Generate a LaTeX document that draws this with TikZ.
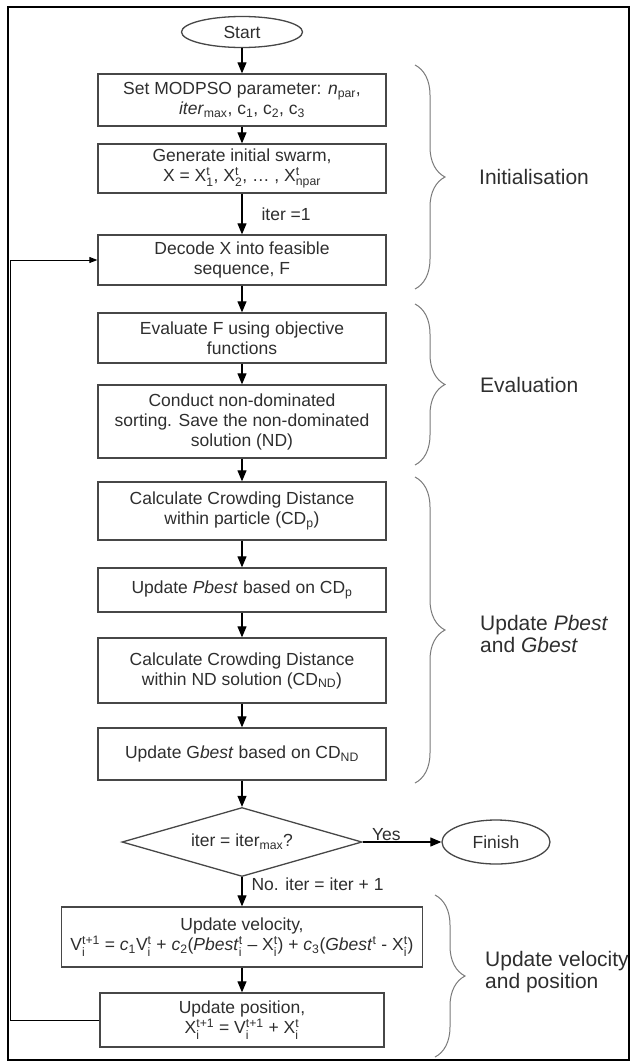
\documentclass[tikz,border=0pt]{standalone}
\usepackage{fontspec}
\usepackage{amsmath}
\setmainfont{Liberation Sans}
\definecolor{ink}{HTML}{2E2E2E}
\definecolor{edge}{HTML}{474747}
\definecolor{bracegray}{HTML}{7A7A7A}
\usetikzlibrary{arrows.meta, positioning, shapes.geometric, decorations.pathreplacing}
\newcommand{\boxfont}{\fontsize{17.5}{20}\selectfont}
\newcommand{\phasefont}{\fontsize{21}{22.5}\selectfont}
\newcommand{\lowtx}[1]{\ensuremath{_{\text{#1}}}}
\newcommand{\uptx}[1]{\ensuremath{^{\text{#1}}}}
\newcommand{\lowuptx}[2]{\ensuremath{_{\text{#1}}^{\text{#2}}}}

\begin{document}
\begin{tikzpicture}[
  x=1pt, y=-1pt,
  procbox/.style={draw=edge, line width=1.3pt, text=ink, align=center, font=\boxfont, minimum width=288pt, inner sep=2pt},
  termnode/.style={ellipse, draw=edge, line width=1.3pt, text=ink, font=\boxfont, inner sep=0pt},
  testnode/.style={diamond, aspect=3.5, draw=edge, line width=1.3pt, text=ink, font=\boxfont, minimum width=240pt, minimum height=69pt, inner sep=0pt},
  flow/.style={-{Triangle[length=11pt, width=9pt]}, line width=1.1pt},
  backflow/.style={-{Triangle[length=8pt, width=6pt]}, line width=1pt},
  edgetext/.style={font=\boxfont, text=ink, inner sep=1pt},
  phase/.style={decorate, decoration={brace, amplitude=30pt}, draw=bracegray, line width=1pt},
  phaselabel/.style={anchor=west, align=left, text=ink, font=\phasefont, inner sep=0pt},
]
\useasboundingbox (0,0) rectangle (632,1063);
\draw[line width=2pt] (8,7) rectangle (629,1060);

% Initialisation
\node[termnode, minimum width=121pt, minimum height=31pt] (start) at (242,32) {Start};
\node[procbox, minimum height=52pt] (setpar) at (242,100) {Set MODPSO parameter: \textit{n}\lowtx{par},\\ \textit{iter}\lowtx{max}, c\lowtx{1}, c\lowtx{2}, c\lowtx{3}};
\node[procbox, minimum height=49pt] (swarm) at (242,168.5) {Generate initial swarm,\\ X = X\lowuptx{1}{t}, X\lowuptx{2}{t}, \ldots\ , X\lowuptx{npar}{t}};
\node[procbox, minimum height=50pt] (decode) at (242,260) {Decode X into feasible\\ sequence, F};

% Evaluation
\node[procbox, minimum height=50pt] (evalf) at (242,338) {Evaluate F using objective\\ functions};
\node[procbox, minimum height=73pt] (sortnd) at (242,421.5) {Conduct non-dominated\\ sorting. Save the non-dominated\\ solution (ND)};

% Update Pbest and Gbest
\node[procbox, minimum height=58pt] (cdpart) at (242,511) {Calculate Crowding Distance\\ within particle (CD\lowtx{p})};
\node[procbox, minimum height=44pt] (pbest) at (242,590) {Update \textit{Pbest} based on CD\lowtx{p}};
\node[procbox, minimum height=65pt] (cdnd) at (242,670.5) {Calculate Crowding Distance\\ within ND solution (CD\lowtx{ND})};
\node[procbox, minimum height=52pt] (gbest) at (242,754) {Update G\textit{best} based on CD\lowtx{ND}};

% stopping test
\node[testnode] (stop) at (242,842) {iter = iter\lowtx{max}?};
\node[termnode, minimum width=108pt, minimum height=44pt] (finish) at (496,842) {Finish};

% Update velocity and position
\node[procbox, minimum width=361pt, minimum height=60pt] (veloc) at (242,937) {Update velocity,\\ V\lowuptx{i}{t+1} = \textit{c}\lowtx{1}V\lowuptx{i}{t} + \textit{c}\lowtx{2}(\textit{Pbest}\lowuptx{i}{t} -- X\lowuptx{i}{t}) + \textit{c}\lowtx{3}(\textit{Gbest}\uptx{t} - X\lowuptx{i}{t})};
\node[procbox, minimum width=284pt, minimum height=54pt] (posit) at (242,1020) {Update position,\\ X\lowuptx{i}{t+1} = V\lowuptx{i}{t+1} + X\lowuptx{i}{t}};

\draw[flow] (start) -- (setpar);
\draw[flow] (setpar) -- (swarm);
\draw[flow] (swarm) -- node[edgetext, midway, anchor=west, xshift=18pt] {iter =1} (decode);
\draw[flow] (decode) -- (evalf);
\draw[flow] (evalf) -- (sortnd);
\draw[flow] (sortnd) -- (cdpart);
\draw[flow] (cdpart) -- (pbest);
\draw[flow] (pbest) -- (cdnd);
\draw[flow] (cdnd) -- (gbest);
\draw[flow] (gbest) -- (stop);
\draw[flow] (stop) -- node[edgetext, pos=0.1, anchor=south west] {Yes} (finish);
\draw[flow] (stop) -- node[edgetext, pos=0.25, anchor=west, xshift=8pt] {No. iter = iter + 1} (veloc);
\draw[flow] (veloc) -- (posit);
\draw[backflow] (posit.west) -- ++(-89,0) |- (decode.west);

% phase braces
\draw[phase] (415,65) -- (415,289);
\draw[phase] (415,304) -- (415,465);
\draw[phase] (415,477) -- (415,783);
\draw[phase] (435,895) -- (435,1057);
\node[phaselabel] (initlbl) at (479,177) {Initialisation};
\node[phaselabel] (evallbl) at (480,385) {Evaluation};
\node[phaselabel] (bestlbl) at (480,634) {Update \textit{Pbest}\\and \textit{Gbest}};
\node[phaselabel] (movelbl) at (485,972) {Update velocity\\and position};
\end{tikzpicture}
\end{document}
